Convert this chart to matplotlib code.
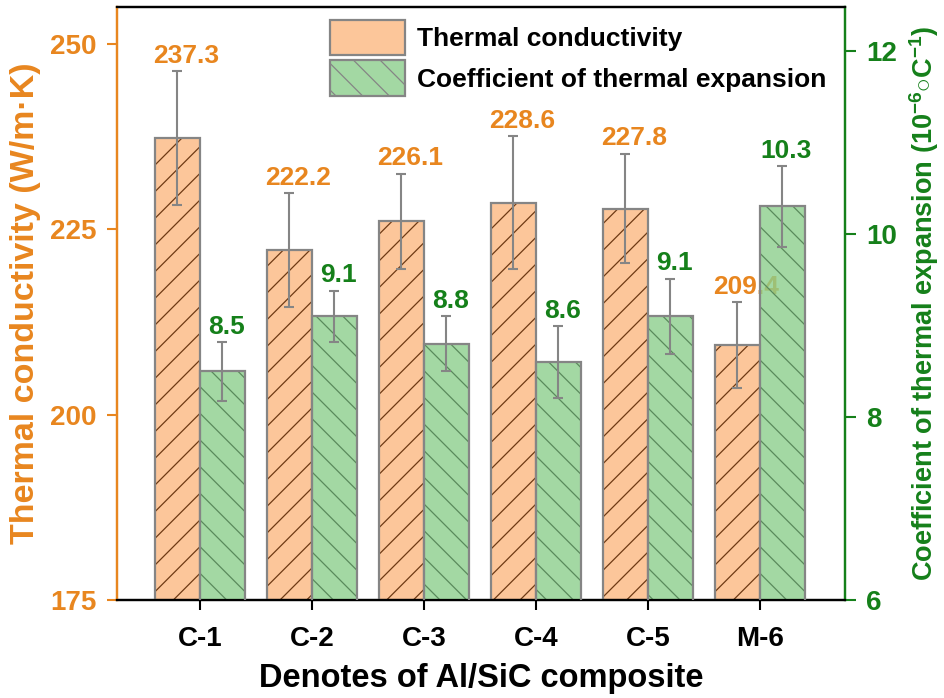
import numpy as np
import matplotlib
matplotlib.use('Agg')
import matplotlib.pyplot as plt
from matplotlib.patches import Patch

# ---- data ----
categories = ['C-1', 'C-2', 'C-3', 'C-4', 'C-5', 'M-6']
tc_values = [237.3, 222.2, 226.1, 228.6, 227.8, 209.4]
tc_errors = [9.0, 7.7, 6.4, 9.0, 7.4, 5.8]
cte_values = [8.5, 9.1, 8.8, 8.6, 9.1, 10.3]
cte_errors = [0.32, 0.28, 0.30, 0.39, 0.41, 0.44]
left_ticks = [175, 200, 225, 250]
right_ticks = [6, 8, 10, 12]
legend_labels = ['Thermal conductivity', 'Coefficient of thermal expansion']

DPI = 80
K = 100 / DPI   # keeps sizes as designed at 100 dpi while hatches get denser

plt.rcParams['font.family'] = ['Liberation Sans', 'DejaVu Sans']
plt.rcParams['font.weight'] = 'bold'
plt.rcParams['hatch.linewidth'] = 0.9 * K
plt.rcParams['mathtext.fontset'] = 'custom'
plt.rcParams['mathtext.rm'] = 'Liberation Sans:bold'
plt.rcParams['mathtext.bf'] = 'Liberation Sans:bold'
plt.rcParams['mathtext.it'] = 'Liberation Sans:bold'
plt.rcParams['mathtext.default'] = 'bf'

ORANGE_TXT = '#E8861F'
ORANGE_FACE = '#FCC69A'
ORANGE_HATCH = '#6e3a14'
GREEN_TXT = '#15801A'
GREEN_FACE = (0.55, 0.81, 0.55, 0.8)
GREEN_HATCH = '#5a8a5c'
GRAY = '#858585'

fig = plt.figure(figsize=(944 / DPI, 698 / DPI), dpi=DPI)
ax = fig.add_axes([117/944, 1-600/698, 728/944, 593/698])
ax2 = ax.twinx()

x = np.arange(len(categories))
w = 0.4

# thermal conductivity bars (left axis)
ax.bar(x - w/2, tc_values, w, color=ORANGE_FACE, edgecolor=ORANGE_HATCH,
       linewidth=0, hatch='/', zorder=2)
ax.bar(x - w/2, tc_values, w, fill=False, edgecolor=GRAY, linewidth=1.6*K, zorder=3)
ax.errorbar(x - w/2, tc_values, yerr=tc_errors, fmt='none', ecolor=GRAY,
            elinewidth=1.5*K, capsize=3.6*K, capthick=1.5*K, zorder=4)
for xi, v, e in zip(x, tc_values, tc_errors):
    ax.annotate(f'{v:.1f}', (xi - w/2, v + e), xytext=(6*K, 6*K),
                textcoords='offset points', ha='center', va='baseline',
                color=ORANGE_TXT, fontsize=19*K, fontweight='bold', zorder=5)

# CTE bars (right axis)
ax2.bar(x + w/2, cte_values, w, color=GREEN_FACE, edgecolor=GREEN_HATCH,
        linewidth=0, hatch='\\', zorder=2)
ax2.bar(x + w/2, cte_values, w, fill=False, edgecolor=GRAY, linewidth=1.6*K, zorder=3)
ax2.errorbar(x + w/2, cte_values, yerr=cte_errors, fmt='none', ecolor=GRAY,
             elinewidth=1.5*K, capsize=3.6*K, capthick=1.5*K, zorder=4)
for xi, v, e in zip(x, cte_values, cte_errors):
    ax2.annotate(f'{v:.1f}', (xi + w/2, v + e), xytext=(3*K, 6*K),
                 textcoords='offset points', ha='center', va='baseline',
                 color=GREEN_TXT, fontsize=19*K, fontweight='bold', zorder=5)

ax.set_xlim(-0.74, 5.76)
ax.set_ylim(175, 255)
ax2.set_ylim(6, 12.48)
ax.set_yticks(left_ticks)
ax2.set_yticks(right_ticks)
ax.set_xticks(x, categories)

ax.tick_params(axis='x', direction='out', length=7*K, width=1.5*K, pad=12*K,
               labelsize=20*K, colors='black')
ax.tick_params(axis='y', direction='out', length=7*K, width=1.5*K, pad=8*K,
               labelsize=20*K, colors=ORANGE_TXT)
ax2.tick_params(axis='y', direction='out', length=8*K, width=1.5*K, pad=7*K,
                labelsize=20*K, colors=GREEN_TXT)

for a in (ax, ax2):
    for s in a.spines.values():
        s.set_linewidth(1.6*K)
    a.spines['top'].set_color('black')
    a.spines['bottom'].set_color('black')
    a.spines['left'].set_color(ORANGE_TXT)
    a.spines['right'].set_color(GREEN_TXT)

ax.set_xlabel('Denotes of Al/SiC composite', fontsize=23.5*K, fontweight='bold',
              color='black', labelpad=8*K)
ax.set_ylabel('Thermal conductivity (W/m·K)', fontsize=24.5*K, fontweight='bold',
              color=ORANGE_TXT)
ax.yaxis.set_label_coords(-0.105, 0.5)
ax2.set_ylabel(r'Coefficient of thermal expansion (10$^{-6}{\circ}$C$^{-1}$)',
               fontsize=19.5*K, fontweight='bold', color=GREEN_TXT)
ax2.yaxis.set_label_coords(1.086, 0.5)

handles = [Patch(facecolor=ORANGE_FACE, edgecolor=GRAY, linewidth=1.6*K),
           Patch(facecolor=GREEN_FACE, edgecolor=GRAY, linewidth=1.6*K, hatch='\\')]
ax2.legend(handles, legend_labels, loc='upper left',
           bbox_to_anchor=(330/944, 1 - 20/698), bbox_transform=fig.transFigure,
           frameon=False, fontsize=19*K, handlelength=2.85, handleheight=1.68,
           handletextpad=0.45, labelspacing=0.19, borderpad=0, borderaxespad=0)

fig.savefig('out.png', dpi=DPI)
